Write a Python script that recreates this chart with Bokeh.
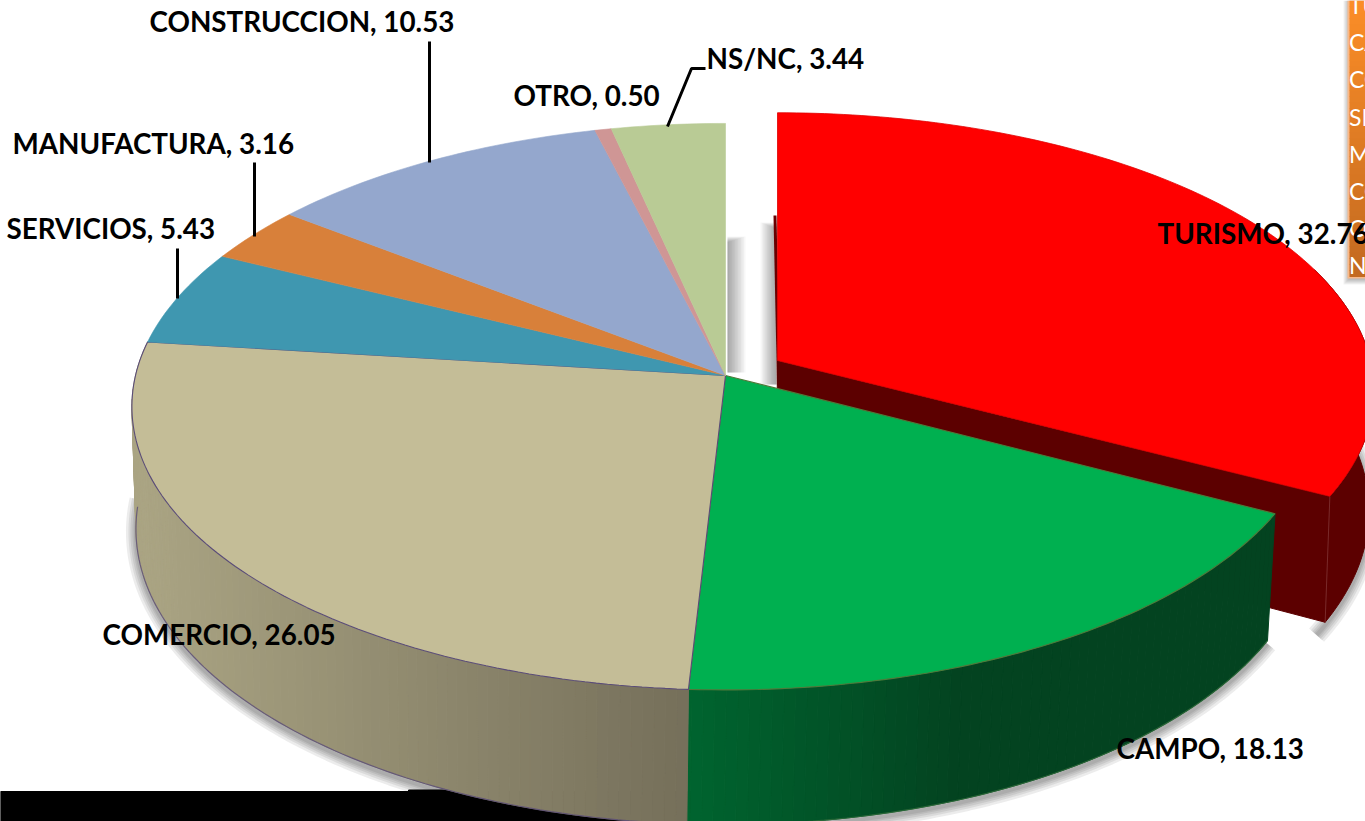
import numpy as np
from bokeh.plotting import figure
from bokeh.models import Range1d
from bokeh.core.properties import value
from bokeh.embed import file_html
from bokeh.resources import INLINE

categories = ["TURISMO", "CAMPO", "COMERCIO", "SERVICIOS", "MANUFACTURA", "CONSTRUCCION", "OTRO", "NS/NC"]
values = [32.76, 18.13, 26.05, 5.43, 3.16, 10.53, 0.50, 3.44]
colors = ["#ff0000", "#00b050", "#c4bd97", "#3f97b0", "#d8803a", "#94a7cd", "#cf9695", "#b9cb95"]
label_pos = [(1157, 233), (1116, 748), (102, 634), (6, 228), (12, 143), (149, 21), (513, 95), (706, 58)]
leaders = [([429, 429], [41, 162]), ([254, 254], [162, 236]), ([177, 177], [248, 298]),
           ([705, 691, 667], [68, 68, 126])]
legend_baselines = [4, 41, 78, 116, 153, 190, 227, 264]

K = 0.11
TOP = (725, 375, 590, 279.8)
LOW = (723, 496, 584, 292)
XTOP = (777, 360, 593, 275)
XLOW = (776, 478, 589, 291)


def proj(theta, g):
    cx, cy, a, b = g
    t = np.radians(theta)
    w = 1 + K * np.cos(t)
    return cx + a * np.sin(t) / w, cy - b * np.cos(t) / w


def arc(t0, t1, g, step=1.0):
    n = max(2, int(abs(t1 - t0) / step) + 1)
    return proj(np.linspace(t0, t1, n), g)


def mix(c0, c1, f):
    a = [int(c0[i:i + 2], 16) for i in (1, 3, 5)]
    b = [int(c1[i:i + 2], 16) for i in (1, 3, 5)]
    return "#%02x%02x%02x" % tuple(int(round(u + (v - u) * f)) for u, v in zip(a, b))


edges = np.concatenate([[0], np.cumsum(values)]) * 3.6

p = figure(width=1365, height=821, x_range=Range1d(0, 1365), y_range=Range1d(821, 0),
           toolbar_location=None, output_backend="svg", min_border=0, outline_line_color=None,
           background_fill_color="white", border_fill_color="white")
p.axis.visible = False
p.grid.visible = False

# black strip in the lower-left of the picture
p.quad(left=[0], right=[692], top=[791], bottom=[830], color="black")
p.quad(left=[408], right=[470], top=[789.5], bottom=[792], color="black")

# legend box with its shadow
for i in range(6):
    p.quad(left=[1348 - i], right=[1366], top=[0], bottom=[279 + i], color="black", alpha=0.05, line_width=0)
p.quad(left=[1347], right=[1366], top=[0], bottom=[278], color="#f8b98a", line_width=0)
N = 46
for i in range(N):
    p.quad(left=[1349], right=[1366], top=[i * 276 / N], bottom=[(i + 1) * 276 / N + .5],
           color=mix("#fb8d27", "#c36a20", i / (N - 1)), line_width=0)
p.text(x=[1348.5] * 8, y=legend_baselines, text=categories, text_color="white",
       text_font=value("Lato"), text_font_size="23px", text_baseline="alphabetic")

# soft shadows in the gap between the exploded slice and the pie
for i in range(12):
    p.quad(left=[727], right=[745 - 1.5 * i], top=[236 + i / 2], bottom=[372], color="black", alpha=0.032, line_width=0)
    p.quad(left=[760 + 1.3 * i], right=[776], top=[222 + i / 2], bottom=[384], color="black", alpha=0.032, line_width=0)

# soft shadows below the walls
t_low = edges[1], 270
sx, sy = arc(t_low[0], t_low[1], LOW)
tx, ty = arc(80, edges[1] + 2, XLOW)
for w in (20, 15, 11, 7, 4):
    p.line(sx, sy + 3, line_color="black", line_alpha=0.075, line_width=w)
    p.line(tx, ty + 3, line_color="black", line_alpha=0.075, line_width=w)

# exploded slice: outer wall, cut face, top
t0, t1 = edges[0], edges[1]
ax, ay = arc(t0, t1, XTOP)
wx, wy = arc(70, t1, XTOP)
bx, by = arc(70, t1, XLOW)
DARK_RED = "#5c0000"
p.line([774.5, 778], [215, 385], line_color="#6a0000", line_width=3)
p.patch(np.r_[wx, bx[::-1]], np.r_[wy, by[::-1]], color=DARK_RED, line_width=1)
p.patch([XTOP[0], ax[-1], bx[-1], XLOW[0]], [XTOP[1], ay[-1], by[-1], XLOW[1]], color=DARK_RED, line_width=1)
p.line([ax[-1], bx[-1]], [ay[-1], by[-1]], line_color="#7a2a2a", line_width=1)
p.patch(np.r_[XTOP[0], ax], np.r_[XTOP[1], ay], color=colors[0], line_color="#e00000", line_width=0.8)


# walls of the pie, shaded column by column from left to right
def wall(t0, t1, c_left, c_right, x_left, x_right):
    th = np.arange(t0, t1 + 0.01, 1.0)
    if th[-1] < t1:
        th = np.r_[th, t1]
    for a, b in zip(th[:-1], th[1:]):
        ux, uy = proj(np.array([a, b]), TOP)
        vx, vy = proj(np.array([a, b]), LOW)
        f = np.clip((ux.mean() - x_left) / (x_right - x_left), 0, 1)
        c = mix(c_left, c_right, f)
        p.patch(np.r_[ux, vx[::-1]], np.r_[uy, vy[::-1]], color=c, line_color=c, line_width=1)


wall(edges[1], edges[2], "#00642f", "#034320", 690, 960)
wall(edges[2], edges[3], "#756f5a", "#aaa483", 690, 140)
for t0_, t1_, col in [(edges[2], 268, "#5a4c78"), (edges[1], edges[2], "#2f6b3a")]:
    lx, ly = arc(t0_, t1_, LOW)
    p.line(lx, ly, line_color=col, line_width=1.2, line_alpha=0.8)

# top faces, drawn from the data
outline = {2: "#5a4c78", 1: "#4f7a3a"}
for i in range(1, len(values)):
    x, y = arc(edges[i], edges[i + 1], TOP)
    p.patch(np.r_[TOP[0], x], np.r_[TOP[1], y], color=colors[i],
            line_color=outline.get(i, colors[i]), line_width=1.1 if i in outline else 0.6)

# leader lines
for lx, ly in leaders:
    p.line(lx, ly, line_color="black", line_width=3)

# data labels
p.text(x=[q[0] for q in label_pos], y=[q[1] for q in label_pos],
       text=[f"{c}, {v:.2f}" for c, v in zip(categories, values)],
       text_color="black", text_font=value("Lato"), text_font_style="bold", text_font_size="27.8px",
       text_baseline="alphabetic")

open("out.html", "w").write(file_html(p, INLINE))
